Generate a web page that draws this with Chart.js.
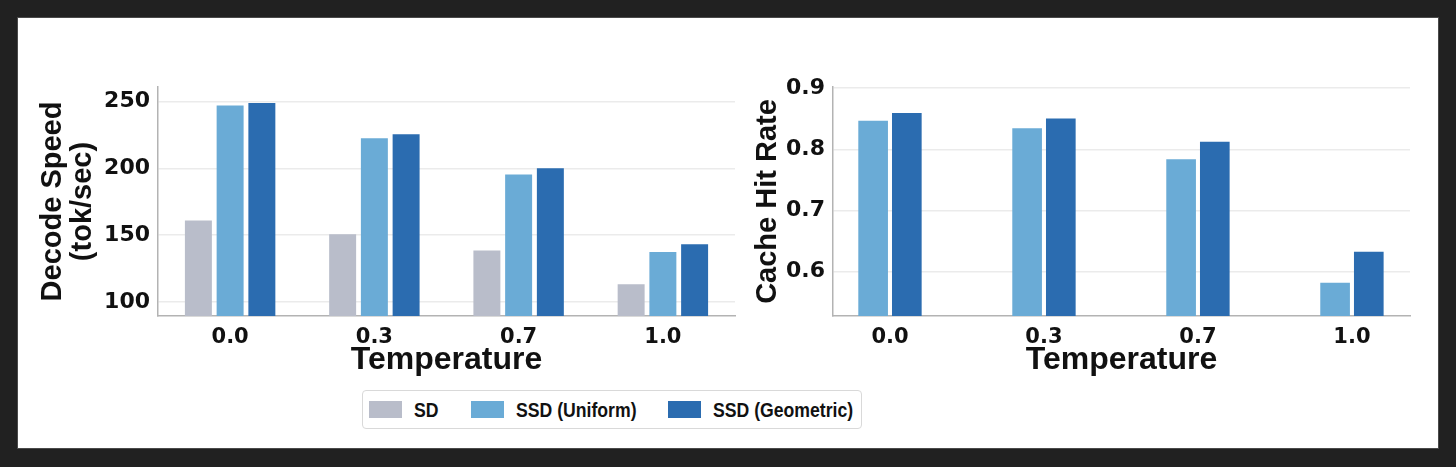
<!DOCTYPE html>
<html>
<head>
<meta charset="utf-8">
<title>Decode Speed / Cache Hit Rate</title>
<script src="https://cdn.jsdelivr.net/npm/chart.js@4.4.1/dist/chart.umd.min.js"></script>
<style>
  html, body { margin: 0; padding: 0; background: #212121; }
  body { width: 1456px; height: 467px; overflow: hidden; position: relative; }
  .panel {
    position: absolute; left: 17px; top: 17px; width: 1422px; height: 432px;
    background: #fff; box-sizing: border-box; border: 1px solid #4a4a4a;
  }
  canvas { position: absolute; }
  #chartSpeed { left: 17px; top: 60px; }
  #chartCache { left: 745px; top: 60px; }
  .legend {
    position: absolute; left: 362px; top: 390px; width: 500px; height: 39px;
    box-sizing: border-box; border: 1px solid #d9d9d9; border-radius: 4px;
    display: flex; align-items: center; padding-left: 6px; white-space: nowrap;
    font-family: "Liberation Sans", Arial, sans-serif;
    font-weight: bold; font-size: 21px; color: #111;
  }
  .legend .item { display: flex; align-items: center; margin-right: 32px; flex: none; }
  .legend .sw { width: 33px; height: 17px; margin-right: 12px; flex: none; }
  .legend .txt { display: inline-block; transform: scaleX(0.84); transform-origin: 0 50%; }
</style>
</head>
<body>
<div class="panel"></div>
<canvas id="chartSpeed" width="728" height="330"></canvas>
<canvas id="chartCache" width="694" height="330"></canvas>
<div class="legend" id="legend"></div>

<script>
// Datos
const temperatures = ["0.0", "0.3", "0.7", "1.0"];

const sdSpeed        = [161.0, 150.7, 138.5, 113.2];
const uniformSpeed   = [247.2, 222.7, 195.5, 137.5];
const geometricSpeed = [249.0, 225.7, 200.2, 143.2];

const uniformHit   = [0.847, 0.8345, 0.784, 0.582];
const geometricHit = [0.8595, 0.8505, 0.8125, 0.6325];

const speedTicks = [100, 150, 200, 250];
const hitTicks   = [0.6, 0.7, 0.8, 0.9];

const seriesNames  = ["SD", "SSD (Uniform)", "SSD (Geometric)"];
const seriesColors = ["#b9bdca", "#6aabd6", "#2b6cb0"];

Chart.defaults.font.family = "'DejaVu Sans', sans-serif";
Chart.defaults.color = "#111";

const TITLE_FONT = { family: "'Liberation Sans', Arial, sans-serif", weight: "bold" };
const NARROW = 0.84; // la leyenda usa una letra condensada

function toPoints(values) {
    return values.map((v, i) => ({ x: i, y: v }));
}

function barSet(idx, values) {
    return {
        label: seriesNames[idx],
        data: toPoints(values),
        backgroundColor: seriesColors[idx],
        borderWidth: 0
    };
}

/* =====================================================
   GRÁFICO GENÉRICO (barras agrupadas sobre eje lineal)
===================================================== */
function renderBars(id, datasets, cfg) {
    const ctx = document.getElementById(id).getContext("2d");

    return new Chart(ctx, {
        type: "bar",
        data: { datasets },
        options: {
            responsive: false,
            animation: false,
            devicePixelRatio: 1,
            categoryPercentage: cfg.catPct,
            barPercentage: cfg.barPct,
            layout: { padding: { top: 27, right: cfg.padRight, left: 0, bottom: 0 } },
            plugins: { legend: { display: false }, tooltip: { enabled: false } },
            scales: {
                x: {
                    type: "linear",
                    offset: false,
                    min: cfg.xMin,
                    max: cfg.xMax,
                    grid: { display: false, drawTicks: false },
                    border: { display: true, color: "#b3b3b3", width: 1.5 },
                    afterBuildTicks: s => { s.ticks = temperatures.map((t, i) => ({ value: i })); },
                    afterFit: s => { s.height = 74; },
                    ticks: {
                        padding: 9,
                        font: { size: 21, weight: "bold" },
                        callback: v => temperatures[v]
                    },
                    title: {
                        display: true,
                        text: "Temperature",
                        color: "#111",
                        padding: { top: 0, bottom: 14 },
                        font: { ...TITLE_FONT, size: 32, lineHeight: 1 }
                    }
                },
                y: {
                    min: cfg.yMin,
                    max: cfg.yMax,
                    grid: { color: "#ebebeb", lineWidth: 1.5, drawTicks: false },
                    border: { display: true, color: "#b3b3b3", width: 1.5 },
                    afterBuildTicks: s => { s.ticks = cfg.yTicks.map(v => ({ value: v })); },
                    afterFit: s => { s.width = cfg.yWidth; },
                    ticks: {
                        padding: 8,
                        font: { size: 22, weight: "bold" },
                        callback: cfg.fmt
                    },
                    title: {
                        display: true,
                        text: cfg.yTitle,
                        color: "#111",
                        padding: { top: cfg.titlePad, bottom: 0 },
                        font: { ...TITLE_FONT, size: 29, lineHeight: 30 / 29 }
                    }
                }
            }
        }
    });
}

/* =====================================================
   LEYENDA COMPARTIDA
===================================================== */
function renderLegend() {
    const box = document.getElementById("legend");
    seriesNames.forEach((name, i) => {
        const item = document.createElement("div");
        item.className = "item";
        const sw = document.createElement("span");
        sw.className = "sw";
        sw.style.background = seriesColors[i];
        const txt = document.createElement("span");
        txt.className = "txt";
        txt.textContent = name;
        item.appendChild(sw);
        item.appendChild(txt);
        box.appendChild(item);
        // compensar el ancho tras el escalado horizontal
        txt.style.marginRight = (-(1 - NARROW) * txt.offsetWidth) + "px";
    });
}

renderBars("chartSpeed",
    [barSet(0, sdSpeed), barSet(1, uniformSpeed), barSet(2, geometricSpeed)],
    {
        yTitle: ["Decode Speed", "(tok/sec)"],
        yTicks: speedTicks,
        yMin: 89.5, yMax: 261,
        xMin: -0.5, xMax: 3.5,
        yWidth: 141, padRight: 10, titlePad: 21,
        catPct: 0.66, barPct: 0.85,
        fmt: v => String(v)
    });

renderBars("chartCache",
    [barSet(1, uniformHit), barSet(2, geometricHit)],
    {
        yTitle: "Cache Hit Rate",
        yTicks: hitTicks,
        yMin: 0.5275, yMax: 0.902,
        xMin: -0.37, xMax: 3.377,
        yWidth: 88, padRight: 29, titlePad: 8,
        catPct: 0.4377, barPct: 0.88,
        fmt: v => v.toFixed(1)
    });

renderLegend();
</script>
</body>
</html>
